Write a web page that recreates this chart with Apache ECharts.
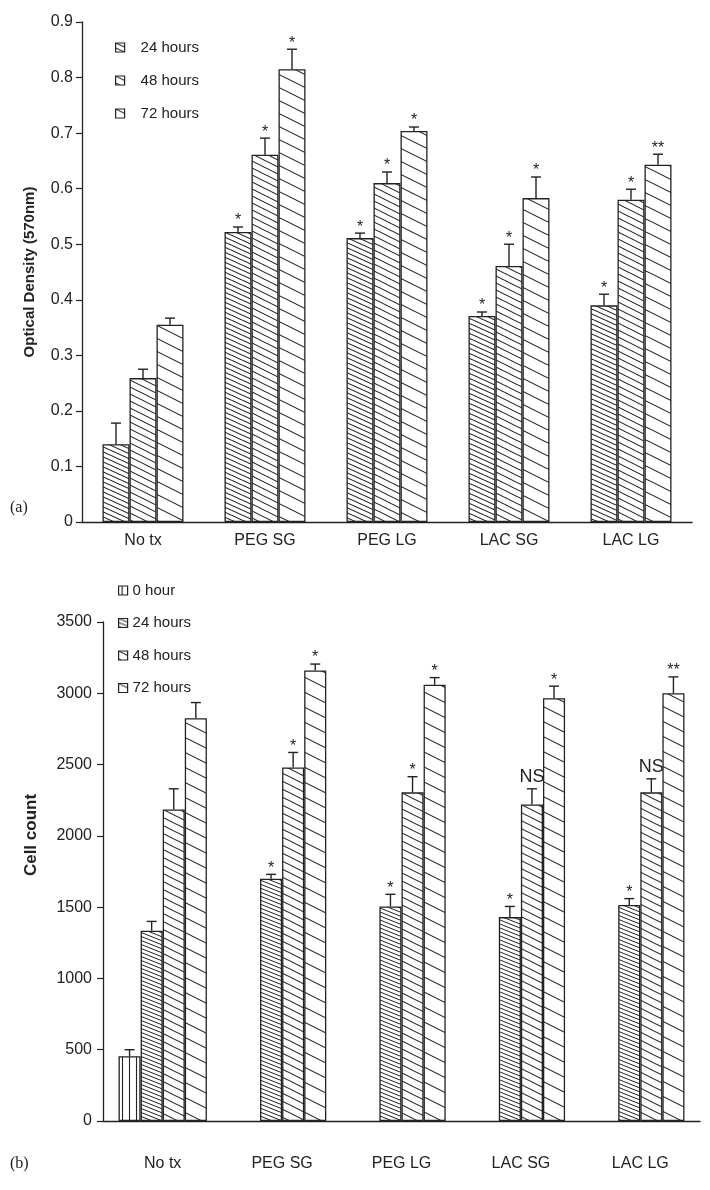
<!DOCTYPE html>
<html><head><meta charset="utf-8">
<script src="https://cdn.jsdelivr.net/npm/echarts@6/dist/echarts.min.js"></script>
<style>html,body{margin:0;padding:0;background:#fff}#c{width:710px;height:1190px}</style>
</head><body><div id="c"></div>
<script>
// ---------- data ----------
const categories = ['No tx', 'PEG SG', 'PEG LG', 'LAC SG', 'LAC LG'];

// (a) Optical density
const seriesNamesA = ['24 hours', '48 hours', '72 hours'];
const od24 = [0.140, 0.522, 0.511, 0.371, 0.390];
const od24Err = [0.038, 0.009, 0.009, 0.007, 0.020];
const od48 = [0.259, 0.661, 0.610, 0.461, 0.580];
const od48Err = [0.016, 0.030, 0.020, 0.039, 0.019];
const od72 = [0.355, 0.815, 0.704, 0.583, 0.643];
const od72Err = [0.012, 0.036, 0.007, 0.038, 0.019];
const od24Sig = ['', '*', '*', '*', '*'];
const od48Sig = ['', '*', '*', '*', '*'];
const od72Sig = ['', '*', '*', '*', '**'];
const odTicks = [0, 0.1, 0.2, 0.3, 0.4, 0.5, 0.6, 0.7, 0.8, 0.9];

// (b) Cell count
const seriesNamesB = ['0 hour', '24 hours', '48 hours', '72 hours'];
const cc0 = [455, null, null, null, null];
const cc0Err = [45, null, null, null, null];
const cc24 = [1335, 1700, 1505, 1430, 1515];
const cc24Err = [65, 30, 85, 75, 45];
const cc48 = [2185, 2480, 2305, 2220, 2305];
const cc48Err = [145, 105, 110, 110, 95];
const cc72 = [2825, 3160, 3060, 2965, 3000];
const cc72Err = [110, 45, 50, 85, 115];
const cc0Sig = ['', '', '', '', ''];
const cc24Sig = ['', '*', '*', '*', '*'];
const cc48Sig = ['', '*', '*', 'NS', 'NS'];
const cc72Sig = ['', '*', '*', '*', '**'];
const ccTicks = [0, 500, 1000, 1500, 2000, 2500, 3000, 3500];

// ---------- patterns ----------
const INK = '#222';
function diagPattern(d, s, lw) {
  const W = Math.round(d / s), H = d;
  const cv = document.createElement('canvas');
  cv.width = W; cv.height = H;
  const g = cv.getContext('2d');
  g.fillStyle = '#fff'; g.fillRect(0, 0, W, H);
  g.strokeStyle = INK; g.lineWidth = lw;
  for (let k = -2; k <= 2; k++) {
    g.beginPath();
    g.moveTo(-W, k * d - d);
    g.lineTo(2 * W, k * d + 2 * d);
    g.stroke();
  }
  return { image: cv, repeat: 'repeat' };
}
function vertPattern(d, lw) {
  const cv = document.createElement('canvas');
  cv.width = d; cv.height = 4;
  const g = cv.getContext('2d');
  g.fillStyle = '#fff'; g.fillRect(0, 0, d, 4);
  g.strokeStyle = INK; g.lineWidth = lw;
  g.beginPath(); g.moveTo(d / 2, -1); g.lineTo(d / 2, 5); g.stroke();
  return { image: cv, repeat: 'repeat' };
}
const patA = [diagPattern(5, 0.45, 1.1), diagPattern(7, 0.5, 1.1), diagPattern(13, 0.5, 1.1)];
const patB = [vertPattern(7, 1.1), diagPattern(4, 0.4, 1.0), diagPattern(8, 0.5, 1.1), diagPattern(15, 0.5, 1.1)];

// ---------- helpers ----------
function barSeries(name, data, pat, gi, gap) {
  return {
    type: 'bar', name: name, xAxisIndex: gi, yAxisIndex: gi,
    data: data.map(v => v == null ? '-' : v),
    barGap: '0%', barCategoryGap: gap,
    itemStyle: { color: pat, borderColor: INK, borderWidth: 1.3 },
    emphasis: { disabled: true }, silent: true, z: 2
  };
}
function errSeries(means, errs, sigs, idx, n, gi, gapFrac) {
  return {
    type: 'custom', xAxisIndex: gi, yAxisIndex: gi, silent: true, z: 5,
    data: means.map((m, i) => [i, m == null ? 0 : m, errs[i] == null ? 0 : errs[i]]),
    encode: { x: 0, y: 1 },
    renderItem: function (params, api) {
      const cat = api.value(0), mean = api.value(1), sd = api.value(2);
      if (!(mean > 0)) return null;
      const band = api.size([1, 0])[0];
      const bw = band * (1 - gapFrac) / n;
      const base = api.coord([cat, mean]);
      const x = base[0] + (idx - (n - 1) / 2) * bw;
      const yTop = api.coord([cat, mean + sd])[1];
      const y0 = base[1];
      const children = [
        { type: 'line', shape: { x1: x, y1: y0, x2: x, y2: yTop }, style: { stroke: INK, lineWidth: 1.4 } },
        { type: 'line', shape: { x1: x - 5, y1: yTop, x2: x + 5, y2: yTop }, style: { stroke: INK, lineWidth: 1.4 } }
      ];
      const s = sigs[params.dataIndex];
      if (s) {
        const star = s.indexOf('*') >= 0;
        children.push({
          type: 'text',
          style: {
            text: s, x: x, y: star ? yTop - 6 : yTop - 3,
            align: 'center', verticalAlign: star ? 'middle' : 'bottom',
            fill: INK, font: (star ? '16px' : '18px') + ' "Liberation Sans", Arial, sans-serif'
          }
        });
      }
      return { type: 'group', children: children };
    }
  };
}

const FONT = '"Liberation Sans", Arial, Helvetica, sans-serif';
const chart = echarts.init(document.getElementById('c'), null, { renderer: 'canvas' });

const gapA = 0.336, gapB = 0.26;
const yA = {
  type: 'value', gridIndex: 0, min: odTicks[0], max: odTicks[odTicks.length - 1], interval: 0.1,
  name: 'Optical Density (570nm)', nameLocation: 'middle', nameGap: 45, nameRotate: 90,
  nameTextStyle: { color: INK, fontFamily: FONT, fontWeight: 'bold', fontSize: 15 },
  axisLine: { show: true, lineStyle: { color: INK, width: 1.3 } },
  axisTick: { show: true, inside: false, length: 6, lineStyle: { color: INK, width: 1.2 } },
  axisLabel: { color: INK, fontFamily: FONT, fontSize: 16, margin: 9,
    formatter: v => (Math.abs(v) < 1e-9 ? '0' : v.toFixed(1)) },
  splitLine: { show: false }
};
const yB = {
  type: 'value', gridIndex: 1, min: ccTicks[0], max: ccTicks[ccTicks.length - 1], interval: 500,
  axisLine: { show: true, lineStyle: { color: INK, width: 1.3 } },
  axisTick: { show: true, inside: false, length: 6, lineStyle: { color: INK, width: 1.2 } },
  axisLabel: { color: INK, fontFamily: FONT, fontSize: 16, margin: 11, formatter: v => String(v) },
  splitLine: { show: false }
};
function xAxis(gi, margin) {
  return {
    type: 'category', gridIndex: gi, data: categories, boundaryGap: true,
    axisLine: { show: true, lineStyle: { color: INK, width: 1.3 } },
    axisTick: { show: false },
    axisLabel: { color: INK, fontFamily: FONT, fontSize: 16, margin: margin }
  };
}

const option = {
  animation: false,
  backgroundColor: '#fff',
  grid: [
    { left: 82, top: 22, width: 610, height: 500 },
    { left: 103, top: 622, width: 597, height: 499 }
  ],
  xAxis: [xAxis(0, 11), xAxis(1, 35)],
  yAxis: [yA, yB],
  legend: [
    {
      orient: 'vertical', left: 110, top: 35, itemWidth: 9, itemHeight: 9, itemGap: 18,
      selectedMode: false, icon: 'rect',
      textStyle: { color: INK, fontFamily: FONT, fontSize: 15, padding: [0, 0, 0, 11] },
      data: seriesNamesA.map((n, i) => ({ name: n, itemStyle: { color: patA[i], borderColor: INK, borderWidth: 1.2 } }))
    },
    {
      orient: 'vertical', left: 113, top: 578, itemWidth: 9, itemHeight: 9, itemGap: 17.5,
      selectedMode: false, icon: 'rect',
      textStyle: { color: INK, fontFamily: FONT, fontSize: 15, padding: [0, 0, 0, 0] },
      data: seriesNamesB.map((n, i) => ({ name: n, itemStyle: { color: patB[i], borderColor: INK, borderWidth: 1.2 } }))
    }
  ],
  graphic: [
    { type: 'text', left: 10, top: 500, style: { text: '(a)', fill: INK, font: '16px "Liberation Serif", "Times New Roman", serif' } },
    { type: 'text', left: 10, top: 1156, style: { text: '(b)', fill: INK, font: '16px "Liberation Serif", "Times New Roman", serif' } },
    { type: 'text', x: 31, y: 835, rotation: Math.PI / 2,
      style: { text: 'Cell count', align: 'center', verticalAlign: 'middle', fill: INK,
        font: 'bold 17px "Liberation Sans", Arial, sans-serif' } }
  ],
  series: [
    barSeries(seriesNamesA[0], od24, patA[0], 0, '33.6%'),
    barSeries(seriesNamesA[1], od48, patA[1], 0, '33.6%'),
    barSeries(seriesNamesA[2], od72, patA[2], 0, '33.6%'),
    errSeries(od24, od24Err, od24Sig, 0, 3, 0, gapA),
    errSeries(od48, od48Err, od48Sig, 1, 3, 0, gapA),
    errSeries(od72, od72Err, od72Sig, 2, 3, 0, gapA),
    barSeries(seriesNamesB[0], cc0, patB[0], 1, '26%'),
    barSeries(seriesNamesB[1], cc24, patB[1], 1, '26%'),
    barSeries(seriesNamesB[2], cc48, patB[2], 1, '26%'),
    barSeries(seriesNamesB[3], cc72, patB[3], 1, '26%'),
    errSeries(cc0, cc0Err, cc0Sig, 0, 4, 1, gapB),
    errSeries(cc24, cc24Err, cc24Sig, 1, 4, 1, gapB),
    errSeries(cc48, cc48Err, cc48Sig, 2, 4, 1, gapB),
    errSeries(cc72, cc72Err, cc72Sig, 3, 4, 1, gapB)
  ]
};
chart.setOption(option);
</script>
</body></html>
